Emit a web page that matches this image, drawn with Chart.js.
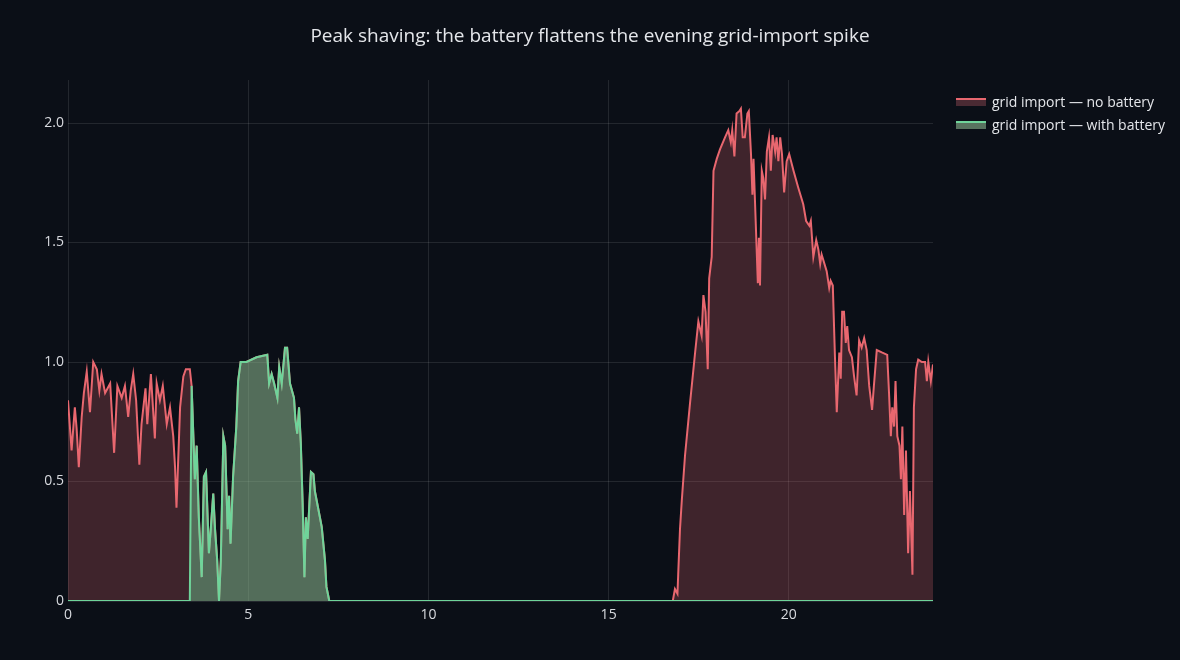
<!DOCTYPE html>
<html>
<head>
<meta charset="utf-8">
<script src="https://cdn.jsdelivr.net/npm/chart.js@4/dist/chart.umd.min.js"></script>
<style>
  body { margin: 0; background: #0b0f17; font-family: "Open Sans", "DejaVu Sans", sans-serif; }
  #wrap { position: relative; width: 1180px; height: 660px; }
  #title { position: absolute; top: 22px; left: 0; width: 1180px; text-align: center; color: #e4e6ea; font-size: 19px; }
  #legend { position: absolute; left: 956px; top: 90px; color: #e4e6ea; font-size: 14px; }
  .item { display: flex; align-items: center; height: 23px; }
  .sw { width: 30px; height: 8px; margin-right: 6px; border-top: 2px solid; box-sizing: border-box; }
</style>
</head>
<body>
<div id="wrap">
  <div id="title">Peak shaving: the battery flattens the evening grid-import spike</div>
  <div id="legend">
    <div class="item"><span class="sw" style="border-color:#e8676f;background:#4a2a33"></span>grid import — no battery</div>
    <div class="item"><span class="sw" style="border-color:#6fd49a;background:#58735f"></span>grid import — with battery</div>
  </div>
  <canvas id="chart" width="1180" height="660"></canvas>
</div>
<script>
// 새벽 (배터리 없이)
const nightHours = [0, 0.10, 0.19, 0.24, 0.30, 0.38, 0.44, 0.52, 0.61, 0.70, 0.80, 0.87, 0.93, 1.03, 1.17, 1.28, 1.37, 1.49, 1.58, 1.67, 1.74, 1.81, 1.89, 1.98, 2.04, 2.15, 2.20, 2.30, 2.41, 2.46, 2.55, 2.63, 2.74, 2.83, 2.92, 2.97, 3.01, 3.11, 3.20, 3.27, 3.38];
const nightLoad = [0.84, 0.63, 0.81, 0.72, 0.56, 0.77, 0.87, 0.96, 0.79, 1.00, 0.97, 0.88, 0.95, 0.87, 0.91, 0.62, 0.90, 0.85, 0.90, 0.77, 0.88, 0.95, 0.84, 0.57, 0.74, 0.89, 0.74, 0.95, 0.68, 0.91, 0.84, 0.90, 0.74, 0.81, 0.69, 0.56, 0.39, 0.81, 0.94, 0.97, 0.97];

// 아침 (두 경우 동일)
const morningHours = [3.43, 3.52, 3.57, 3.63, 3.71, 3.77, 3.83, 3.91, 3.96, 4.03, 4.08, 4.14, 4.19, 4.24, 4.31, 4.36, 4.43, 4.47, 4.51, 4.58, 4.67, 4.72, 4.79, 4.95, 5.23, 5.53, 5.58, 5.65, 5.72, 5.81, 5.86, 5.93, 6.02, 6.08, 6.16, 6.27, 6.31, 6.36, 6.41, 6.46, 6.51, 6.56, 6.60, 6.65, 6.74, 6.81, 6.85, 7.04, 7.13, 7.17, 7.25];
const morningLoad = [0.90, 0.51, 0.65, 0.35, 0.10, 0.52, 0.54, 0.20, 0.30, 0.45, 0.30, 0.17, 0, 0.17, 0.69, 0.65, 0.30, 0.44, 0.24, 0.52, 0.73, 0.92, 1.00, 1.00, 1.02, 1.03, 0.91, 0.95, 0.91, 0.85, 0.98, 0.91, 1.06, 1.06, 0.91, 0.85, 0.76, 0.70, 0.81, 0.66, 0.41, 0.10, 0.35, 0.26, 0.54, 0.53, 0.46, 0.31, 0.17, 0.06, 0];

// 저녁 (배터리 없이)
const eveningHours = [16.78, 16.84, 16.91, 16.93, 16.98, 17.03, 17.12, 17.26, 17.40, 17.49, 17.58, 17.63, 17.69, 17.75, 17.79, 17.86, 17.91, 18.00, 18.09, 18.23, 18.32, 18.39, 18.43, 18.49, 18.55, 18.63, 18.67, 18.72, 18.78, 18.85, 18.89, 18.95, 18.99, 19.02, 19.08, 19.14, 19.17, 19.20, 19.25, 19.29, 19.34, 19.39, 19.45, 19.50, 19.55, 19.62, 19.66, 19.71, 19.76, 19.81, 19.87, 19.94, 20.01, 20.13, 20.26, 20.40, 20.48, 20.57, 20.61, 20.68, 20.76, 20.82, 20.87, 20.91, 21.05, 21.12, 21.16, 21.22, 21.28, 21.33, 21.40, 21.44, 21.48, 21.53, 21.58, 21.62, 21.67, 21.75, 21.81, 21.88, 21.95, 22.02, 22.09, 22.16, 22.23, 22.31, 22.36, 22.44, 22.58, 22.73, 22.78, 22.83, 22.87, 22.92, 22.96, 23.01, 23.07, 23.11, 23.15, 23.20, 23.25, 23.31, 23.36, 23.43, 23.47, 23.53, 23.59, 23.69, 23.78, 23.83, 23.87, 23.94, 24];
const eveningLoad = [0, 0.05, 0.03, 0.11, 0.30, 0.42, 0.61, 0.83, 1.04, 1.17, 1.11, 1.28, 1.21, 0.97, 1.35, 1.44, 1.80, 1.85, 1.89, 1.94, 1.97, 1.92, 1.97, 1.86, 2.04, 2.05, 2.06, 1.94, 1.94, 2.04, 2.05, 1.87, 1.70, 1.85, 1.59, 1.33, 1.52, 1.32, 1.80, 1.77, 1.68, 1.88, 1.94, 1.80, 1.95, 1.88, 1.94, 1.84, 1.94, 1.87, 1.71, 1.84, 1.87, 1.80, 1.73, 1.66, 1.59, 1.57, 1.59, 1.44, 1.51, 1.47, 1.41, 1.45, 1.38, 1.31, 1.34, 1.32, 1.02, 0.79, 1.04, 0.93, 1.21, 1.21, 1.08, 1.15, 1.05, 1.02, 0.94, 0.86, 1.09, 1.06, 1.10, 1.05, 0.90, 0.80, 0.90, 1.05, 1.04, 1.03, 0.87, 0.69, 0.81, 0.73, 0.92, 0.69, 0.65, 0.51, 0.73, 0.36, 0.63, 0.20, 0.46, 0.11, 0.81, 0.97, 1.01, 1.00, 1.00, 0.92, 1.00, 0.92, 0.99];

const yTicks = [0, 0.5, 1, 1.5, 2];
const xTicks = [0, 5, 10, 15, 20];

function toPoints(hours, load) {
  return hours.map((h, i) => ({ x: h, y: load[i] }));
}

const noBattery = [].concat(
  toPoints(nightHours, nightLoad),
  toPoints(morningHours, morningLoad),
  toPoints(eveningHours, eveningLoad)
);
const withBattery = [].concat(
  toPoints(nightHours, nightLoad.map(() => 0)),
  toPoints(morningHours, morningLoad),
  toPoints(eveningHours, eveningLoad.map(() => 0))
);

const gridColor = 'rgba(255,255,255,0.1)';
const tickFont = { family: '"Open Sans", "DejaVu Sans", sans-serif', size: 14 };

new Chart(document.getElementById('chart').getContext('2d'), {
  type: 'line',
  data: {
    datasets: [{
      label: 'grid import — no battery',
      data: noBattery,
      borderColor: '#e8676f',
      backgroundColor: 'rgba(232,103,111,0.24)',
      fill: 'origin',
      order: 1
    }, {
      label: 'grid import — with battery',
      data: withBattery,
      borderColor: '#6fd49a',
      backgroundColor: 'rgba(111,212,154,0.42)',
      fill: 'origin',
      order: 0
    }]
  },
  options: {
    responsive: false,
    animation: false,
    layout: { padding: { top: 80, right: 247, left: 0, bottom: 0 } },
    elements: { point: { radius: 0 }, line: { borderWidth: 2, tension: 0 } },
    plugins: { legend: { display: false }, tooltip: { enabled: false } },
    scales: {
      x: {
        type: 'linear', min: 0, max: 24,
        afterFit: (s) => { s.height = 59; },
        afterBuildTicks: (s) => { s.ticks = xTicks.map(v => ({ value: v })); },
        grid: { color: gridColor, drawTicks: false },
        border: { display: false },
        ticks: { color: '#d8dadf', font: tickFont, padding: 6, maxRotation: 0 }
      },
      y: {
        min: 0, max: 2.18,
        afterFit: (s) => { s.width = 68; },
        afterBuildTicks: (s) => { s.ticks = yTicks.map(v => ({ value: v })); },
        grid: { color: gridColor, drawTicks: false },
        border: { display: false },
        ticks: { color: '#d8dadf', font: tickFont, padding: 4 }
      }
    }
  }
});
</script>
</body>
</html>
